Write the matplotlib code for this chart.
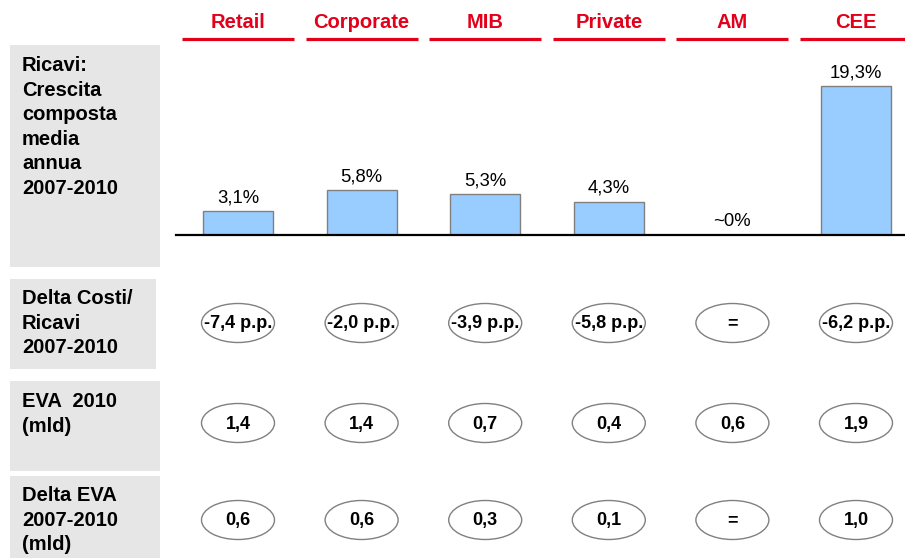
import matplotlib
matplotlib.use("Agg")
import matplotlib.pyplot as plt
from matplotlib.patches import Rectangle, Ellipse

plt.rcParams['font.family'] = ['Liberation Sans', 'DejaVu Sans']

# ---------------- data ----------------
categories = ['Retail', 'Corporate', 'MIB', 'Private', 'AM', 'CEE']
ricavi_growth = [3.1, 5.8, 5.3, 4.3, 0.0, 19.3]
ricavi_labels = ['3,1%', '5,8%', '5,3%', '4,3%', '~0%', '19,3%']
delta_costi = ['-7,4 p.p.', '-2,0 p.p.', '-3,9 p.p.', '-5,8 p.p.', '=', '-6,2 p.p.']
eva_2010 = ['1,4', '1,4', '0,7', '0,4', '0,6', '1,9']
delta_eva = ['0,6', '0,6', '0,3', '0,1', '=', '1,0']
row_titles = [
    ['Ricavi:', 'Crescita', 'composta', 'media', 'annua', '2007-2010'],
    ['Delta Costi/', 'Ricavi', '2007-2010'],
    ['EVA  2010', '(mld)'],
    ['Delta EVA', '2007-2010', '(mld)'],
]

# ---------------- layout (pixels) ----------------
W, H = 905, 558
RED = '#E3001B'
GREY_BOX = '#E6E6E6'

fig = plt.figure(figsize=(W / 100, H / 100), dpi=100)

# background axes in pixel coordinates
bg = fig.add_axes([0, 0, 1, 1])
bg.set_xlim(0, W)
bg.set_ylim(H, 0)
bg.axis('off')

boxes = [(10, 45, 150, 222), (10, 279, 146, 90), (10, 381, 150, 90), (10, 476, 150, 84)]
first_baselines = [71, 304, 407, 501]
line_step = 24.6
for (bx, by, bw, bh), lines, b0 in zip(boxes, row_titles, first_baselines):
    bg.add_patch(Rectangle((bx, by), bw, bh, facecolor=GREY_BOX, edgecolor='none'))
    for k, ln in enumerate(lines):
        bg.text(22, b0 + k * line_step, ln, fontsize=14.5, fontweight='bold',
                color='black', ha='left', va='baseline')

# column geometry
x_left_px, x_right_px = 176, 905
col0_px, col_step_px = 238, 123.6
x0 = -(col0_px - x_left_px) / col_step_px
x1 = x0 + (x_right_px - x_left_px) / col_step_px
xpos = list(range(len(categories)))

# bar chart axes
base_px, top_px = 235, 45
px_per_pct = 7.7
ax = fig.add_axes([x_left_px / W, 1 - base_px / H, (x_right_px - x_left_px) / W, (base_px - top_px) / H])
ax.set_xlim(x0, x1)
ax.set_ylim(0, (base_px - top_px) / px_per_pct)
ax.patch.set_visible(False)
for s in ['top', 'right', 'left']:
    ax.spines[s].set_visible(False)
ax.spines['bottom'].set_linewidth(1.6)
ax.spines['bottom'].set_color('black')
ax.set_xticks([])
ax.set_yticks([])
bar_w = 70 / col_step_px
ax.bar(xpos, ricavi_growth, width=bar_w, color='#99CCFF', edgecolor='#808080', linewidth=1.0, zorder=2)
for x, v, lab in zip(xpos, ricavi_growth, ricavi_labels):
    ax.annotate(lab, (x, v), xytext=(0, 6.5), textcoords='offset points',
                ha='center', va='baseline', fontsize=13.3, color='black')

# table axes (x in category units, y in pixels)
tb = fig.add_axes([x_left_px / W, 0, (x_right_px - x_left_px) / W, 1])
tb.set_xlim(x0, x1)
tb.set_ylim(H, 0)
tb.axis('off')
tb.patch.set_visible(False)

line_half = 56 / col_step_px
for x, cat in zip(xpos, categories):
    tb.text(x, 28, cat, fontsize=14.5, fontweight='bold', color=RED, ha='center', va='baseline')
    tb.plot([x - line_half, x + line_half], [39, 39], color=RED, linewidth=2.3,
            solid_capstyle='butt', clip_on=False)

ell_w = 73 / col_step_px
ell_h = 39
for yc, values in zip([323, 423, 520], [delta_costi, eva_2010, delta_eva]):
    for x, val in zip(xpos, values):
        tb.add_patch(Ellipse((x, yc), ell_w, ell_h, facecolor='white', edgecolor='#808080', linewidth=1.0))
        tb.text(x, yc + 1, val, fontsize=13, fontweight='bold', color='black',
                ha='center', va='center')

fig.savefig('out.png', dpi=100)
